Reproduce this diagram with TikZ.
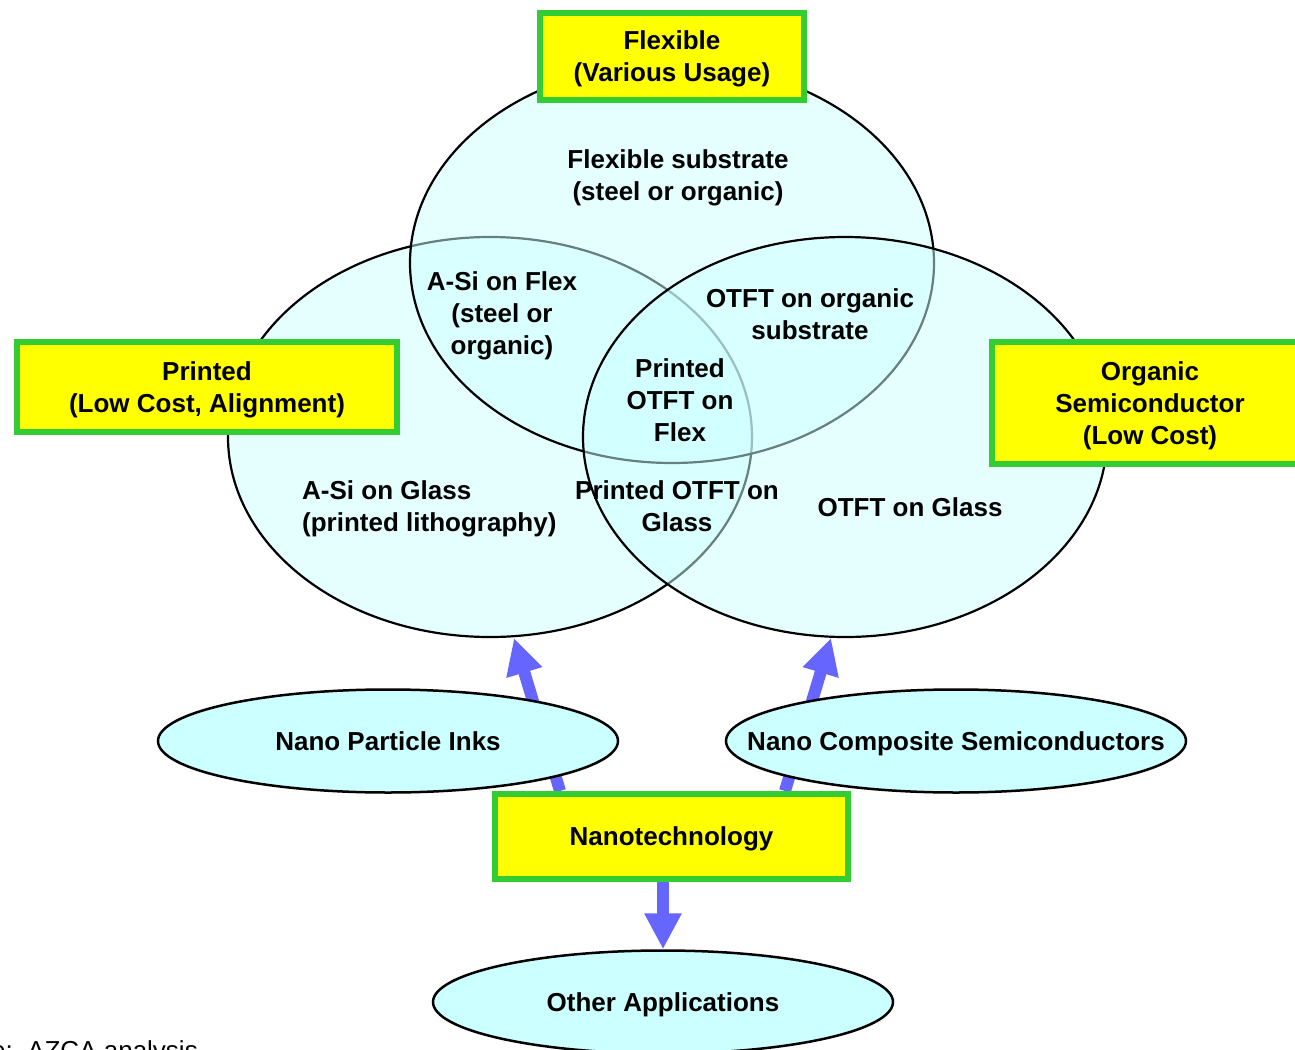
\documentclass[tikz,border=0pt]{standalone}
\usepackage{fontspec}
\setmainfont{Liberation Sans}
\usetikzlibrary{shapes.geometric,arrows.meta}
\definecolor{vennfill}{HTML}{CCFFFF}
\definecolor{tagyellow}{HTML}{FFFF00}
\definecolor{taggreen}{HTML}{33CC33}
\definecolor{pushblue}{HTML}{6666FF}

\begin{document}
\begin{tikzpicture}
  [x=1bp,y=-1bp,every node/.style={font=\fontsize{26.1}{32.1}\selectfont\bfseries,align=center,inner sep=0pt,text depth=0pt},
   venn/.style={ellipse,draw=black,line width=2.2bp,fill=vennfill,fill opacity=0.5,text opacity=1,minimum width=524bp,minimum height=400bp},
   tech/.style={ellipse,draw=black,line width=2.5bp,fill=vennfill,minimum width=460bp,minimum height=103bp},
   tag/.style={rectangle,draw=taggreen,line width=6bp,fill=tagyellow},
   push/.style={pushblue,line width=12bp,-{Triangle[width=35bp,length=36bp]}}]

  \useasboundingbox (0,0) rectangle (1295,1050);

  % the three circles
  \node[venn] (glass) at (490,437) {};
  \node[venn] (flex) at (672,263) {};
  \node[venn] (organic) at (845,437) {};

  % overlaps
  \node (flexsub) at (678,175) {Flexible substrate\\(steel or organic)};
  \node (asiflex) at (502,313) {A-Si on Flex\\(steel or\\organic)};
  \node (otftorg) at (810,314) {OTFT on organic\\substrate};
  \node (potftflex) at (680,400) {Printed\\OTFT on\\Flex};
  \node[align=left,anchor=west] (asiglass) at (302,506) {A-Si on Glass\\(printed lithography)};
  \node (potftglass) at (677,506) {Printed OTFT on\\Glass};
  \node (otftglass) at (910,507) {OTFT on Glass};

  % nanotechnology
  \coordinate (ninks) at (560,791);
  \coordinate (ncomp) at (785,791);
  \coordinate (tglass) at (514,638);
  \coordinate (torg) at (831,638);
  \draw[push] (ninks) -- (tglass);
  \draw[push] (ncomp) -- (torg);

  \node[tech] (inks) at (388,741) {\makebox[0pt]{Nano Particle Inks}};
  \node[tech] (comp) at (956,741) {\makebox[0pt]{Nano Composite Semiconductors}};
  \node[tech] (other) at (663,1002) {\makebox[0pt]{Other Applications}};

  \node[tag,minimum width=353bp,minimum height=85bp] (nano) at (671.5,836.5) {Nanotechnology};
  \draw[push] (nano.south -| other.north) -- (other.north);

  % labels
  \node[tag,minimum width=264bp,minimum height=87bp] (flexible) at (672,56.5) {Flexible\\(Various Usage)};
  \node[tag,minimum width=380bp,minimum height=90bp] (printed) at (207,387) {Printed\\(Low Cost, Alignment)};
  \node[tag,minimum width=316bp,minimum height=122bp] (semi) at (1150,403) {Organic\\Semiconductor\\(Low Cost)};

  \node[font=\fontsize{26.1}{32.1}\selectfont,anchor=base east] (source) at (198,1059) {Source:\ \ AZCA analysis};
\end{tikzpicture}
\end{document}
